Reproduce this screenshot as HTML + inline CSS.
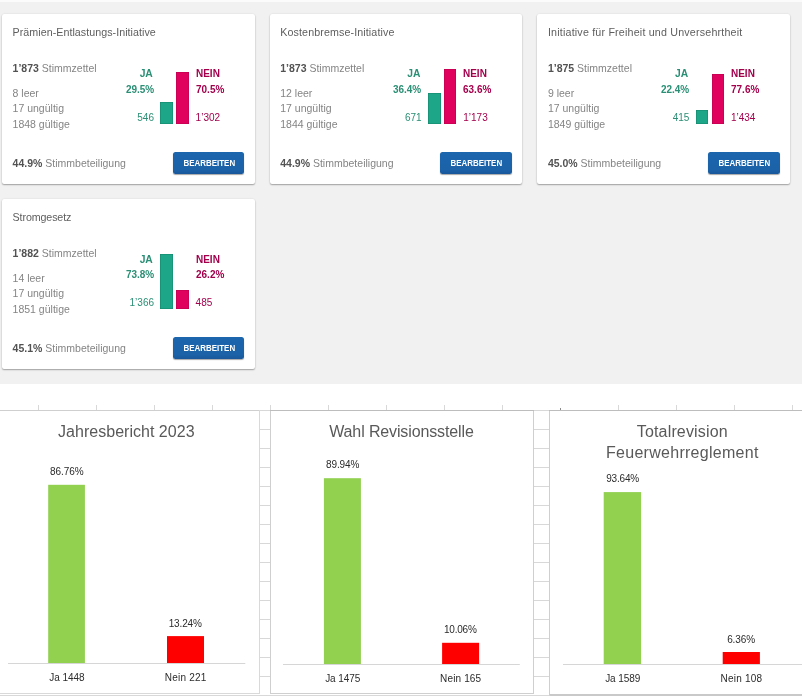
<!DOCTYPE html>
<html lang="de">
<head>
<meta charset="utf-8">
<title>Abstimmungsresultate</title>
<style>
*{box-sizing:border-box}
html,body{margin:0;padding:0}
body{width:802px;height:696px;overflow:hidden;background:#fff;position:relative;
 font-family:"Liberation Sans",Arial,sans-serif;}
.top{position:absolute;left:0;top:0;width:802px;height:384px;background:#f1f1f1;}
.topstrip{position:absolute;left:0;top:0;width:802px;height:2px;background:#fbfbfb}
.card{position:absolute;width:252.67px;height:170px;background:#fff;border-radius:2px;
 box-shadow:0 1px 1.5px rgba(0,0,0,.32),0 0 2px rgba(0,0,0,.09);margin:0}
.t{position:absolute;line-height:1;white-space:nowrap;color:#848484}
.t b{font-weight:700;color:#525252}
.title{color:#5e5e5e}
.b{font-weight:700}
.sq{transform:scaleX(.97);transform-origin:100% 50%}
.sql{transform:scaleX(.97);transform-origin:0 50%}
.ja{color:#2a8f74}
.nein{color:#a3004c}
.bar{position:absolute;width:12.6px}
.gbar{background:#1ea688;box-shadow:inset 0 0 0 .5px rgba(0,70,50,.35)}
.pbar{background:#e0005e;box-shadow:inset 0 0 0 .5px rgba(110,0,50,.35)}
.btn{position:absolute;left:170.7px;top:137.8px;width:71.6px;height:21.9px;border:0;border-radius:2.5px;
 background:linear-gradient(#1c66ae,#1b62a8 80%,#19579a);box-shadow:0 1px 1px rgba(0,0,0,.35);padding:0;margin:0;color:#fff;
 font-family:"Liberation Sans",Arial,sans-serif;font-weight:700;font-size:9.2px;line-height:1}
.btn span{position:absolute;left:1px;right:0;top:6.9px;text-align:center;transform:scaleX(.865)}
.xl{position:absolute;left:0;top:384px}
.top,.xl{will-change:transform}
.ct{font-family:"Liberation Sans",Arial,sans-serif;font-size:16px;fill:#595959}
.cl{font-family:"Liberation Sans",Arial,sans-serif;font-size:10px;fill:#2b2b2b}
</style>
</head>
<body>
<main class="top">
<div class="topstrip"></div>
<section class="card" style="left:2.0px;top:14px">
<div class="t title" style="left:10.60px;top:13.04px;font-size:10.7px;letter-spacing:0.04px">Prämien-Entlastungs-Initiative</div>
<div class="t g" style="left:10.60px;top:48.91px;font-size:10.5px;"><b>1’873</b> Stimmzettel</div>
<div class="t g" style="left:10.60px;top:73.91px;font-size:10.5px;">8 leer</div>
<div class="t g" style="left:10.60px;top:89.11px;font-size:10.5px;">17 ungültig</div>
<div class="t g" style="left:10.60px;top:104.71px;font-size:10.5px;">1848 gültige</div>
<div class="t g" style="left:10.60px;top:143.81px;font-size:10.5px;"><b>44.9%</b> Stimmbeteiligung</div>
<div class="t ja b" style="right:101.87px;top:55.28px;font-size:10.3px;">JA</div>
<div class="t ja b sq" style="right:100.67px;top:70.78px;font-size:10.3px;">29.5%</div>
<div class="t ja" style="right:100.67px;top:99.03px;font-size:10px;">546</div>
<div class="t nein b sql" style="left:193.60px;top:55.28px;font-size:10.3px;">NEIN</div>
<div class="t nein b sql" style="left:193.60px;top:70.78px;font-size:10.3px;">70.5%</div>
<div class="t nein" style="left:193.60px;top:99.03px;font-size:10px;">1’302</div>
<div class="bar gbar" style="left:158.4px;top:88.20px;height:21.50px"></div>
<div class="bar pbar" style="left:174.2px;top:57.70px;height:52.00px"></div>
<button class="btn" type="button"><span>BEARBEITEN</span></button>
</section>
<section class="card" style="left:269.67px;top:14px">
<div class="t title" style="left:10.60px;top:13.04px;font-size:10.7px;letter-spacing:0.11px">Kostenbremse-Initiative</div>
<div class="t g" style="left:10.60px;top:48.91px;font-size:10.5px;"><b>1’873</b> Stimmzettel</div>
<div class="t g" style="left:10.60px;top:73.91px;font-size:10.5px;">12 leer</div>
<div class="t g" style="left:10.60px;top:89.11px;font-size:10.5px;">17 ungültig</div>
<div class="t g" style="left:10.60px;top:104.71px;font-size:10.5px;">1844 gültige</div>
<div class="t g" style="left:10.60px;top:143.81px;font-size:10.5px;"><b>44.9%</b> Stimmbeteiligung</div>
<div class="t ja b" style="right:101.87px;top:55.28px;font-size:10.3px;">JA</div>
<div class="t ja b sq" style="right:100.67px;top:70.78px;font-size:10.3px;">36.4%</div>
<div class="t ja" style="right:100.67px;top:99.03px;font-size:10px;">671</div>
<div class="t nein b sql" style="left:193.60px;top:55.28px;font-size:10.3px;">NEIN</div>
<div class="t nein b sql" style="left:193.60px;top:70.78px;font-size:10.3px;">63.6%</div>
<div class="t nein" style="left:193.60px;top:99.03px;font-size:10px;">1’173</div>
<div class="bar gbar" style="left:158.4px;top:78.60px;height:31.10px"></div>
<div class="bar pbar" style="left:174.2px;top:55.10px;height:54.60px"></div>
<button class="btn" type="button"><span>BEARBEITEN</span></button>
</section>
<section class="card" style="left:537.33px;top:14px">
<div class="t title" style="left:10.60px;top:13.04px;font-size:10.7px;letter-spacing:0.19px">Initiative für Freiheit und Unversehrtheit</div>
<div class="t g" style="left:10.60px;top:48.91px;font-size:10.5px;"><b>1’875</b> Stimmzettel</div>
<div class="t g" style="left:10.60px;top:73.91px;font-size:10.5px;">9 leer</div>
<div class="t g" style="left:10.60px;top:89.11px;font-size:10.5px;">17 ungültig</div>
<div class="t g" style="left:10.60px;top:104.71px;font-size:10.5px;">1849 gültige</div>
<div class="t g" style="left:10.60px;top:143.81px;font-size:10.5px;"><b>45.0%</b> Stimmbeteiligung</div>
<div class="t ja b" style="right:101.87px;top:55.28px;font-size:10.3px;">JA</div>
<div class="t ja b sq" style="right:100.67px;top:70.78px;font-size:10.3px;">22.4%</div>
<div class="t ja" style="right:100.67px;top:99.03px;font-size:10px;">415</div>
<div class="t nein b sql" style="left:193.60px;top:55.28px;font-size:10.3px;">NEIN</div>
<div class="t nein b sql" style="left:193.60px;top:70.78px;font-size:10.3px;">77.6%</div>
<div class="t nein" style="left:193.60px;top:99.03px;font-size:10px;">1’434</div>
<div class="bar gbar" style="left:158.4px;top:96.10px;height:13.60px"></div>
<div class="bar pbar" style="left:174.2px;top:60.00px;height:49.70px"></div>
<button class="btn" type="button"><span>BEARBEITEN</span></button>
</section>
<section class="card" style="left:2.0px;top:199.3px">
<div class="t title" style="left:10.60px;top:13.04px;font-size:10.7px;letter-spacing:-0.12px">Stromgesetz</div>
<div class="t g" style="left:10.60px;top:48.91px;font-size:10.5px;"><b>1’882</b> Stimmzettel</div>
<div class="t g" style="left:10.60px;top:73.91px;font-size:10.5px;">14 leer</div>
<div class="t g" style="left:10.60px;top:89.11px;font-size:10.5px;">17 ungültig</div>
<div class="t g" style="left:10.60px;top:104.71px;font-size:10.5px;">1851 gültige</div>
<div class="t g" style="left:10.60px;top:143.81px;font-size:10.5px;"><b>45.1%</b> Stimmbeteiligung</div>
<div class="t ja b" style="right:101.87px;top:55.28px;font-size:10.3px;">JA</div>
<div class="t ja b sq" style="right:100.67px;top:70.78px;font-size:10.3px;">73.8%</div>
<div class="t ja" style="right:100.67px;top:99.03px;font-size:10px;">1’366</div>
<div class="t nein b sql" style="left:193.60px;top:55.28px;font-size:10.3px;">NEIN</div>
<div class="t nein b sql" style="left:193.60px;top:70.78px;font-size:10.3px;">26.2%</div>
<div class="t nein" style="left:193.60px;top:99.03px;font-size:10px;">485</div>
<div class="bar gbar" style="left:158.4px;top:55.20px;height:54.50px"></div>
<div class="bar pbar" style="left:174.2px;top:90.70px;height:19.00px"></div>
<button class="btn" type="button"><span>BEARBEITEN</span></button>
</section>
</main>
<svg class="xl" width="802" height="312" viewBox="0 384 802 312">
<rect x="0" y="384" width="802" height="312" fill="#fff"/>
<g stroke="#d8d8d8" stroke-width="1" fill="none" shape-rendering="crispEdges">
<line x1="0" y1="410.5" x2="802" y2="410.5"/>
<line x1="38.4" y1="405" x2="38.4" y2="411"/>
<line x1="96.4" y1="405" x2="96.4" y2="411"/>
<line x1="154.4" y1="405" x2="154.4" y2="411"/>
<line x1="212.4" y1="405" x2="212.4" y2="411"/>
<line x1="270.4" y1="405" x2="270.4" y2="411"/>
<line x1="328.4" y1="405" x2="328.4" y2="411"/>
<line x1="386.4" y1="405" x2="386.4" y2="411"/>
<line x1="444.4" y1="405" x2="444.4" y2="411"/>
<line x1="502.4" y1="405" x2="502.4" y2="411"/>
<line x1="560.4" y1="408" x2="560.4" y2="411" stroke="#8a8a8a"/>
<line x1="618.4" y1="405" x2="618.4" y2="411"/>
<line x1="676.4" y1="405" x2="676.4" y2="411"/>
<line x1="734.4" y1="405" x2="734.4" y2="411"/>
<line x1="792.4" y1="405" x2="792.4" y2="411"/>
<line x1="259" y1="429.5" x2="270.5" y2="429.5"/>
<line x1="533" y1="429.5" x2="550" y2="429.5"/>
<line x1="259" y1="448.5" x2="270.5" y2="448.5"/>
<line x1="533" y1="448.5" x2="550" y2="448.5"/>
<line x1="259" y1="467.5" x2="270.5" y2="467.5"/>
<line x1="533" y1="467.5" x2="550" y2="467.5"/>
<line x1="259" y1="486.5" x2="270.5" y2="486.5"/>
<line x1="533" y1="486.5" x2="550" y2="486.5"/>
<line x1="259" y1="505.5" x2="270.5" y2="505.5"/>
<line x1="533" y1="505.5" x2="550" y2="505.5"/>
<line x1="259" y1="524.5" x2="270.5" y2="524.5"/>
<line x1="533" y1="524.5" x2="550" y2="524.5"/>
<line x1="259" y1="543.5" x2="270.5" y2="543.5"/>
<line x1="533" y1="543.5" x2="550" y2="543.5"/>
<line x1="259" y1="562.5" x2="270.5" y2="562.5"/>
<line x1="533" y1="562.5" x2="550" y2="562.5"/>
<line x1="259" y1="581.5" x2="270.5" y2="581.5"/>
<line x1="533" y1="581.5" x2="550" y2="581.5"/>
<line x1="259" y1="600.5" x2="270.5" y2="600.5"/>
<line x1="533" y1="600.5" x2="550" y2="600.5"/>
<line x1="259" y1="619.5" x2="270.5" y2="619.5"/>
<line x1="533" y1="619.5" x2="550" y2="619.5"/>
<line x1="259" y1="638.5" x2="270.5" y2="638.5"/>
<line x1="533" y1="638.5" x2="550" y2="638.5"/>
<line x1="259" y1="657.5" x2="270.5" y2="657.5"/>
<line x1="533" y1="657.5" x2="550" y2="657.5"/>
<line x1="259" y1="676.5" x2="270.5" y2="676.5"/>
<line x1="533" y1="676.5" x2="550" y2="676.5"/>
<line x1="259" y1="695.5" x2="270.5" y2="695.5"/>
<line x1="533" y1="695.5" x2="550" y2="695.5"/>
<line x1="0" y1="695.5" x2="802" y2="695.5"/>
</g>
<g stroke="#cfcfcf" stroke-width="1" fill="#fff" shape-rendering="crispEdges">
<rect x="-6.5" y="410.5" width="266" height="283" stroke="#d9d9d9"/>
<rect x="270.5" y="410.5" width="263" height="283"/>
<rect x="549.5" y="410.5" width="266" height="284"/>
</g>
<g stroke="#bdbdbd" stroke-width="1" shape-rendering="crispEdges">
<line x1="0" y1="410.5" x2="259" y2="410.5" stroke="#cfcfcf"/>
<line x1="270" y1="410.5" x2="534" y2="410.5"/>
<line x1="549" y1="410.5" x2="802" y2="410.5"/>
</g>
<rect x="549.5" y="694" width="260" height="2" fill="#c9c9c9"/>
<text class="ct" x="126.3" y="436.8" text-anchor="middle" textLength="136.5" lengthAdjust="spacing">Jahresbericht 2023</text>
<rect x="8" y="663.0" width="237.3" height="1" fill="#d6d6d6"/>
<rect x="48.2" y="484.8" width="36.7" height="178.2" fill="#92d050"/>
<rect x="167.0" y="636.1" width="37.0" height="26.9" fill="#ff0000"/>
<text class="cl" x="66.9" y="474.9" text-anchor="middle" textLength="33.7" lengthAdjust="spacing">86.76%</text>
<text class="cl" x="185.3" y="626.6" text-anchor="middle" textLength="33.2" lengthAdjust="spacing">13.24%</text>
<text class="cl" x="66.9" y="680.7" text-anchor="middle" textLength="35.1" lengthAdjust="spacing">Ja 1448</text>
<text class="cl" x="185.5" y="680.7" text-anchor="middle" textLength="41.4" lengthAdjust="spacing">Nein 221</text>
<text class="ct" x="401.5" y="436.8" text-anchor="middle" textLength="144.6" lengthAdjust="spacing">Wahl Revisionsstelle</text>
<rect x="283" y="664.0" width="236.8" height="1" fill="#d6d6d6"/>
<rect x="323.9" y="478.2" width="37.0" height="185.8" fill="#92d050"/>
<rect x="442.1" y="642.8" width="37.0" height="21.2" fill="#ff0000"/>
<text class="cl" x="342.7" y="468.3" text-anchor="middle" textLength="33.6" lengthAdjust="spacing">89.94%</text>
<text class="cl" x="460.4" y="633.3" text-anchor="middle" textLength="32.9" lengthAdjust="spacing">10.06%</text>
<text class="cl" x="342.7" y="681.5" text-anchor="middle" textLength="35.1" lengthAdjust="spacing">Ja 1475</text>
<text class="cl" x="460.6" y="681.5" text-anchor="middle" textLength="41.0" lengthAdjust="spacing">Nein 165</text>
<text class="ct" x="682.2" y="436.8" text-anchor="middle" textLength="90.8" lengthAdjust="spacing">Totalrevision</text>
<text class="ct" x="682.2" y="458.1" text-anchor="middle" textLength="152.3" lengthAdjust="spacing">Feuerwehrreglement</text>
<rect x="563" y="664.0" width="239.0" height="1" fill="#d6d6d6"/>
<rect x="603.7" y="492.1" width="37.4" height="171.9" fill="#92d050"/>
<rect x="722.7" y="652.0" width="37.2" height="12.0" fill="#ff0000"/>
<text class="cl" x="622.7" y="482.2" text-anchor="middle" textLength="32.9" lengthAdjust="spacing">93.64%</text>
<text class="cl" x="741.1" y="642.5" text-anchor="middle" textLength="27.9" lengthAdjust="spacing">6.36%</text>
<text class="cl" x="622.7" y="681.5" text-anchor="middle" textLength="35.1" lengthAdjust="spacing">Ja 1589</text>
<text class="cl" x="741.3" y="681.5" text-anchor="middle" textLength="41.6" lengthAdjust="spacing">Nein 108</text>
</svg>
</body>
</html>
